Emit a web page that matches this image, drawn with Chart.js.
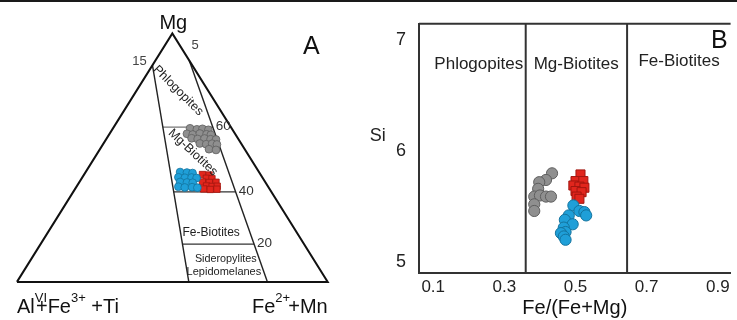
<!DOCTYPE html>
<html>
<head>
<meta charset="utf-8">
<script src="https://cdn.jsdelivr.net/npm/chart.js@4.4.1/dist/chart.umd.min.js"></script>
<style>
  html, body { margin: 0; padding: 0; background: #fff; overflow: hidden; }
  #wrap { position: relative; width: 737px; height: 320px; overflow: hidden; }
  #topRule { position: absolute; left: 0; top: 0; width: 737px; height: 2px; background: #1a1a1a; z-index: 2; }
  #chartA { position: absolute; left: 0; top: 0; }
  #chartB { position: absolute; left: 370px; top: 0; }
</style>
</head>
<body>
<div id="wrap">
  <div id="topRule"></div>
  <canvas id="chartA" width="370" height="320"></canvas>
  <canvas id="chartB" width="368" height="320"></canvas>
</div>
<script>
// ---------- panel A : ternary Mg - (AlVI+Fe3++Ti) - (Fe2++Mn), values in % ----------
const aGrayMg = [61.8, 61.4, 61.6, 61.2, 59.6, 59.3, 59.7, 59.4, 59.2, 57.8, 57.5, 57.7, 57.4, 57.3, 55.7, 55.4, 55.6, 55.3, 53.4, 53.1];
const aGrayFe = [24.8, 27.2, 28.9, 31.0, 24.9, 26.9, 29.0, 31.3, 32.8, 27.3, 29.4, 31.5, 33.6, 35.4, 31.0, 33.2, 35.0, 36.7, 35.1, 37.5];
const aBlueMg = [44.2, 44.0, 43.8, 42.1, 41.9, 42.0, 41.8, 40.2, 40.0, 39.9, 38.3, 38.0, 38.1, 37.9];
const aBlueFe = [30.4, 32.7, 34.6, 30.9, 33.1, 35.2, 36.9, 32.4, 34.7, 36.6, 32.8, 35.0, 37.3, 39.1];
const aRedMg = [43.2, 43.0, 41.7, 41.5, 40.2, 40.0, 40.1, 38.6, 38.4, 38.5, 37.4, 37.2, 37.3];
const aRedFe = [38.1, 40.3, 40.1, 42.0, 39.6, 41.9, 44.0, 41.7, 43.6, 45.2, 41.4, 43.6, 45.7];

// field boundaries
const aLeftLineMg = [87.2, 0];   // from left edge (Fe = 0) down to base
const aLeftLineFe = [0, 55.3];
const aRightLineMg = [89.1, 0];  // from right edge down to base
const aRightLineFe = [10.9, 80.6];
const aFieldMg = [62.3, 36.2, 15.2];
const aFieldTicks = ['60', '40', '20'];

// ---------- panel B : Si vs Fe/(Fe+Mg) ----------
const bGrayX = [0.434, 0.417, 0.398, 0.395, 0.384, 0.400, 0.417, 0.431, 0.384, 0.384];
const bGraySi = [5.80, 5.74, 5.72, 5.66, 5.59, 5.60, 5.59, 5.59, 5.52, 5.46];
const bRedX = [0.514, 0.500, 0.522, 0.494, 0.511, 0.525, 0.500, 0.517, 0.503, 0.511];
const bRedSi = [5.79, 5.73, 5.73, 5.69, 5.68, 5.67, 5.64, 5.63, 5.59, 5.57];
const bBlueX = [0.494, 0.511, 0.525, 0.530, 0.481, 0.470, 0.492, 0.467, 0.472, 0.459, 0.467, 0.472];
const bBlueSi = [5.51, 5.46, 5.45, 5.42, 5.42, 5.38, 5.34, 5.31, 5.27, 5.26, 5.23, 5.20];
const bBounds = [0.36, 0.645];
const bFields = ['Phlogopites', 'Mg-Biotites', 'Fe-Biotites'];
const bXTicks = [0.1, 0.3, 0.5, 0.7, 0.9];
const bYTicks = [5, 6, 7];
const bXRange = [0.06, 0.936];
const bYRange = [4.9, 7.15];

const FONT = '"Liberation Sans", Arial, Helvetica, sans-serif';
Chart.defaults.font.family = FONT;
Chart.defaults.animation = false;

// ternary -> cartesian (x across the base, y = Mg)
const tern = (mg, fe) => ({ x: fe + mg / 2, y: mg });
const ternPts = (mgs, fes) => mgs.map((m, i) => tern(m, fes[i]));
// x position where a boundary line crosses a given Mg level
const crossAt = (mgs, fes, mg) => {
  const p = ternPts(mgs, fes);
  const t = (p[0].y - mg) / (p[0].y - p[1].y);
  return p[0].x + t * (p[1].x - p[0].x);
};

function drawText(ctx, str, px, py, o) {
  ctx.save();
  ctx.font = `${o.size}px ${FONT}`;
  ctx.fillStyle = o.color || '#222';
  ctx.textAlign = o.align || 'center';
  ctx.textBaseline = o.base || 'middle';
  ctx.translate(px, py);
  if (o.rot) ctx.rotate(o.rot * Math.PI / 180);
  ctx.fillText(str, 0, 0);
  ctx.restore();
}

// text made of pieces, some raised (superscripts)
function drawRich(ctx, parts, px, py, size, align) {
  ctx.save();
  ctx.textBaseline = 'alphabetic';
  ctx.textAlign = 'left';
  ctx.fillStyle = '#111';
  let total = 0;
  parts.forEach(p => {
    ctx.font = `${p.sup ? 13 : size}px ${FONT}`;
    p.w = ctx.measureText(p.t).width;
    total += p.sup ? p.w * p.adv : p.w;
  });
  let x = align === 'right' ? px - total : px;
  parts.forEach(p => {
    ctx.font = `${p.sup ? 13 : size}px ${FONT}`;
    ctx.fillText(p.t, x, p.sup ? py - 11 : py);
    x += p.sup ? p.w * p.adv : p.w;
  });
  ctx.restore();
}

const aLabels = [
  { t: 'Mg', x: 50.3, y: 103.9, size: 20, color: '#111' },
  { t: '5', x: 57.3, y: 95.3, size: 13, color: '#444' },
  { t: '15', x: 39.4, y: 88.9, size: 13, color: '#444' },
  { t: 'A', x: 94.7, y: 94.6, size: 25, color: '#111' },
  { t: 'Phlogopites', x: 51.9, y: 77.0, size: 12.5, color: '#222', rot: 45 },
  { t: 'Mg-Biotites', x: 56.6, y: 52.1, size: 12.5, color: '#222', rot: 43 },
  { t: 'Fe-Biotites', x: 62.5, y: 19.8, size: 12, color: '#222' },
  { t: 'Sideropylites', x: 67.2, y: 9.3, size: 10.8, color: '#222' },
  { t: 'Lepidomelanes', x: 66.6, y: 3.9, size: 11, color: '#222' }
];

const lineDs = (data, color, width) => ({
  data, showLine: true, pointRadius: 0, borderColor: color, borderWidth: width,
  fill: false, order: 10
});

const aDatasets = [
  lineDs([tern(0, 0), tern(100, 0), tern(0, 100), tern(0, 0)], '#111', 2),
  lineDs(ternPts(aLeftLineMg, aLeftLineFe), '#222', 1.4),
  lineDs(ternPts(aRightLineMg, aRightLineFe), '#222', 1.4)
];
aFieldMg.forEach((mg, i) => {
  const l = { x: crossAt(aLeftLineMg, aLeftLineFe, mg), y: mg };
  const r = { x: crossAt(aRightLineMg, aRightLineFe, mg), y: mg };
  aDatasets.push(lineDs([l, r], i === 0 ? '#777' : '#333', 1.3));
});
aDatasets.push(
  { data: ternPts(aBlueMg, aBlueFe), pointRadius: 3.9, backgroundColor: '#1f9fd8', borderColor: '#13739e', borderWidth: 0.8, order: 1 },
  { data: ternPts(aRedMg, aRedFe), pointStyle: 'rect', pointRadius: 4.5, backgroundColor: '#e1261d', borderColor: '#a3160f', borderWidth: 0.8, order: 2 },
  { data: ternPts(aGrayMg, aGrayFe), pointRadius: 3.9, backgroundColor: '#8f8f8f', borderColor: '#5f5f5f', borderWidth: 0.8, order: 3 }
);

const aTextPlugin = {
  id: 'aText',
  afterDatasetsDraw(chart) {
    const { ctx, scales: { x, y } } = chart;
    aLabels.forEach(l => drawText(ctx, l.t, x.getPixelForValue(l.x), y.getPixelForValue(l.y), l));
    aFieldMg.forEach((mg, i) => {
      const rx = crossAt(aRightLineMg, aRightLineFe, mg);
      drawText(ctx, aFieldTicks[i], x.getPixelForValue(rx) + 3, y.getPixelForValue(mg) - 1,
        { size: 13.5, color: '#333', align: 'left' });
    });
    const base = y.getPixelForValue(-12.4);
    drawRich(ctx, [
      { t: 'Al' }, { t: 'VI', sup: true, adv: 0.1 }, { t: '+Fe' }, { t: '3+', sup: true, adv: 1 }, { t: ' +Ti' }
    ], x.getPixelForValue(0), base, 20, 'left');
    drawRich(ctx, [
      { t: 'Fe' }, { t: '2+', sup: true, adv: 0.5 }, { t: ' +Mn' }
    ], x.getPixelForValue(100), base, 20, 'right');
  }
};

new Chart(document.getElementById('chartA'), {
  type: 'scatter',
  data: { datasets: aDatasets },
  options: {
    responsive: false,
    layout: { padding: 0 },
    plugins: { legend: { display: false }, tooltip: { enabled: false } },
    scales: {
      x: { type: 'linear', display: false, min: -3.75, max: 111.9 },
      y: { type: 'linear', display: false, min: -13.2, max: 111.3 }
    }
  },
  plugins: [aTextPlugin]
});

// ---------- panel B ----------
const bLabels = [
  { t: bFields[0], x: 0.228, y: 6.784, size: 17 },
  { t: bFields[1], x: 0.502, y: 6.784, size: 17 },
  { t: bFields[2], x: 0.791, y: 6.81, size: 17 },
  { t: 'B', x: 0.904, y: 6.993, size: 25, color: '#111' },
  { t: 'Si', x: -0.056, y: 6.134, size: 18 }
];

const bTextPlugin = {
  id: 'bText',
  afterDatasetsDraw(chart) {
    const { ctx, chartArea: a, scales: { x, y } } = chart;
    ctx.save();
    ctx.strokeStyle = '#333';
    ctx.lineWidth = 2;
    ctx.beginPath();
    ctx.moveTo(a.left, y.getPixelForValue(bYRange[1]));
    ctx.lineTo(a.right, y.getPixelForValue(bYRange[1]));
    ctx.stroke();
    ctx.restore();
    bLabels.forEach(l => drawText(ctx, l.t, x.getPixelForValue(l.x), y.getPixelForValue(l.y), l));
  }
};

const bDatasets = bBounds.map(v => lineDs([{ x: v, y: bYRange[0] }, { x: v, y: bYRange[1] }], '#333', 2));
bDatasets.push(
  { data: bBlueX.map((v, i) => ({ x: v, y: bBlueSi[i] })), pointRadius: 5.6, backgroundColor: '#1f9fd8', borderColor: '#13739e', borderWidth: 1, order: 1 },
  { data: bRedX.map((v, i) => ({ x: v, y: bRedSi[i] })), pointStyle: 'rect', pointRadius: 6.4, backgroundColor: '#e1261d', borderColor: '#a3160f', borderWidth: 1, order: 2 },
  { data: bGrayX.map((v, i) => ({ x: v, y: bGraySi[i] })), pointRadius: 5.6, backgroundColor: '#8f8f8f', borderColor: '#5f5f5f', borderWidth: 1, order: 3 }
);

new Chart(document.getElementById('chartB'), {
  type: 'scatter',
  data: { datasets: bDatasets },
  options: {
    responsive: false,
    layout: { padding: { top: 15, right: 0, left: 0, bottom: 0 } },
    plugins: { legend: { display: false }, tooltip: { enabled: false } },
    scales: {
      x: {
        type: 'linear', min: bXRange[0], max: bXRange[1],
        afterBuildTicks: s => { s.ticks = bXTicks.map(v => ({ value: v })); },
        afterFit: s => { s.height = 47; },
        grid: { display: false, drawTicks: false },
        border: { display: true, color: '#333', width: 2 },
        ticks: { padding: 4, color: '#222', font: { size: 17 }, callback: v => v.toFixed(1) },
        title: { display: true, text: 'Fe/(Fe+Mg)', color: '#111', font: { size: 20 }, padding: { top: 0, bottom: 0 } }
      },
      y: {
        type: 'linear', min: bYRange[0], max: bYRange[1],
        afterBuildTicks: s => { s.ticks = bYTicks.map(v => ({ value: v })); },
        afterFit: s => { s.width = 49; },
        grid: { display: false, drawTicks: false },
        border: { display: true, color: '#333', width: 2 },
        ticks: { padding: 13, color: '#222', font: { size: 18 }, callback: v => String(v) }
      }
    }
  },
  plugins: [bTextPlugin]
});
</script>
</body>
</html>
